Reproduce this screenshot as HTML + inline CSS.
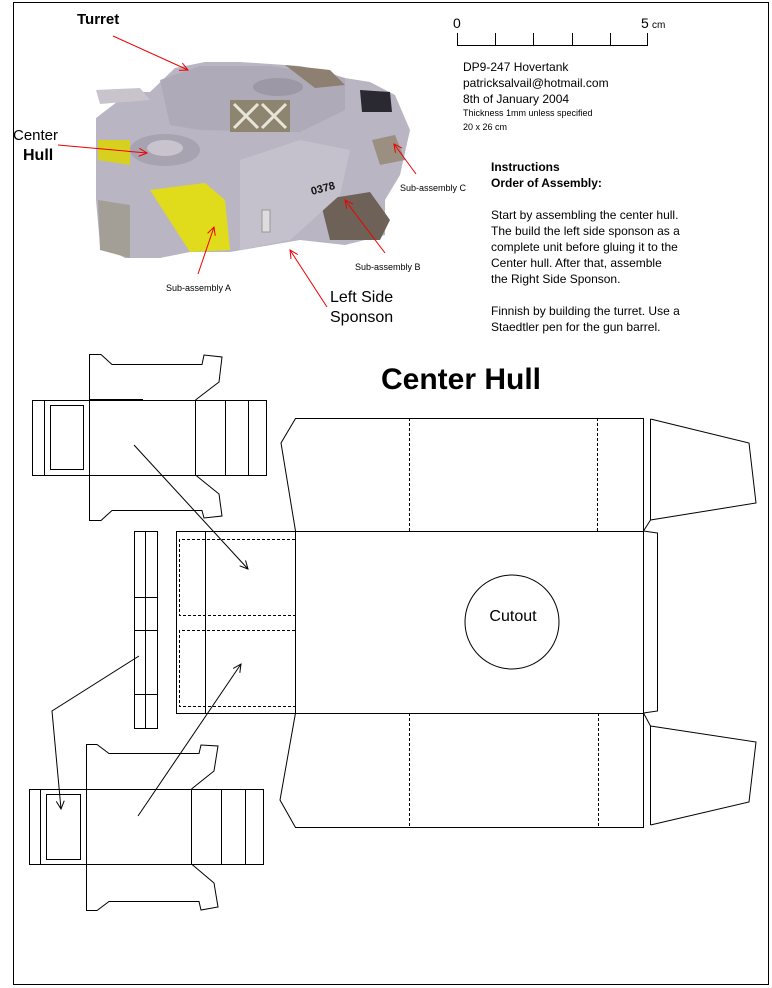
<!DOCTYPE html>
<html><head><meta charset="utf-8"><style>
html,body{margin:0;padding:0;background:#fff;}
svg{display:block;font-family:"Liberation Sans",Arial,sans-serif;}
</style></head><body>
<svg width="772" height="988" viewBox="0 0 772 988" xmlns="http://www.w3.org/2000/svg">
<defs>
<marker id="ab" markerWidth="10" markerHeight="10" refX="9" refY="5" orient="auto" markerUnits="userSpaceOnUse"><path d="M1,1 L9,5 L1,9" fill="none" stroke="#000" stroke-width="1"/></marker>
<marker id="ar" markerWidth="10" markerHeight="10" refX="9" refY="5" orient="auto" markerUnits="userSpaceOnUse"><path d="M1,1 L9,5 L1,9" fill="none" stroke="#e00" stroke-width="1"/></marker>
</defs>
<rect x="13.5" y="2.5" width="755" height="982" fill="none" stroke="#000" stroke-width="1"/>

<!-- tank photo approximation -->
<g stroke="none">
<polygon points="96,118 130,92 150,92 175,68 205,62 240,62 300,66 320,70 345,78 370,82 395,95 410,130 400,175 385,200 385,235 345,245 300,240 230,252 190,252 160,258 125,258 100,245 96,200" fill="#b9b5c2"/>
<polygon points="96,90 140,88 150,100 100,104" fill="#c9c4cc"/>
<polygon points="160,80 200,66 270,66 310,72 345,78 345,110 300,132 200,130 170,125" fill="#aeaab8"/>
<polygon points="230,100 290,100 290,132 230,132" fill="#8e8570"/>
<path d="M234,104 L258,128 M258,104 L234,128 M262,104 L286,128 M286,104 L262,128" stroke="#e8e4d8" stroke-width="3"/>
<ellipse cx="278" cy="87" rx="25" ry="9" fill="#9d98a6"/>
<ellipse cx="165" cy="150" rx="35" ry="16" fill="#a8a3b0"/>
<ellipse cx="165" cy="148" rx="18" ry="8" fill="#c8c3cc"/>
<polygon points="98,140 130,140 130,165 98,160" fill="#d8d020"/>
<polygon points="150,190 205,183 225,200 230,250 190,252" fill="#e0dc1c"/>
<polygon points="98,200 130,205 130,258 100,250" fill="#a39f96"/>
<polygon points="320,200 370,192 390,220 380,240 330,240" fill="#6e6258"/>
<polygon points="285,65 330,70 345,85 315,88" fill="#8d8070"/>
<polygon points="360,90 390,92 392,112 362,112" fill="#2a2830"/>
<polygon points="372,140 395,135 405,160 380,165" fill="#9a8f80"/>
<polygon points="240,160 300,140 350,150 340,195 290,240 240,250" fill="#c5c1cc"/>
<text x="312" y="195" font-size="11" font-weight="bold" fill="#111" transform="rotate(-15 312 195)">0378</text>
<rect x="262" y="210" width="8" height="22" fill="#ddd" stroke="#999"/>
</g>

<!-- labels on photo -->
<text x="77" y="24" font-size="15" font-weight="bold">Turret</text>
<line x1="113" y1="36" x2="188" y2="70" stroke="#e00" marker-end="url(#ar)"/>
<text x="13" y="140" font-size="15">Center</text>
<text x="23" y="160" font-size="16" font-weight="bold">Hull</text>
<line x1="58" y1="145" x2="147" y2="153" stroke="#e00" marker-end="url(#ar)"/>
<text x="400" y="191" font-size="9">Sub-assembly C</text>
<line x1="416" y1="174" x2="394" y2="144" stroke="#e00" marker-end="url(#ar)"/>
<text x="355" y="270" font-size="9">Sub-assembly B</text>
<line x1="385" y1="253" x2="345" y2="200" stroke="#e00" marker-end="url(#ar)"/>
<text x="166" y="291" font-size="9">Sub-assembly A</text>
<line x1="198" y1="274" x2="214" y2="227" stroke="#e00" marker-end="url(#ar)"/>
<text x="330" y="302" font-size="16">Left Side</text>
<text x="330" y="322" font-size="16">Sponson</text>
<line x1="327" y1="307" x2="290" y2="250" stroke="#e00" marker-end="url(#ar)"/>

<!-- scale -->
<g stroke="#000" stroke-width="1" fill="none">
<path d="M457.5,33 V45.5 H647.5 V33 M495.5,33 V45 M533.5,33 V45 M572.5,33 V45 M610.5,33 V45"/>
</g>
<text x="453" y="28" font-size="14">0</text>
<text x="641" y="28" font-size="14">5</text>
<text x="652" y="28" font-size="10">cm</text>
<text x="463" y="71" font-size="12">DP9-247 Hovertank</text>
<text x="463" y="87" font-size="12">patricksalvail@hotmail.com</text>
<text x="463" y="103" font-size="12">8th of January 2004</text>
<text x="463" y="116" font-size="9">Thickness 1mm unless specified</text>
<text x="463" y="130" font-size="9">20 x 26 cm</text>

<g font-size="12">
<text x="491" y="171" font-weight="bold">Instructions</text>
<text x="491" y="187" font-weight="bold">Order of Assembly:</text>
<text x="491" y="219">Start by assembling the center hull.</text>
<text x="491" y="235">The build the left side sponson as a</text>
<text x="491" y="251">complete unit before gluing it to the</text>
<text x="491" y="267">Center hull.  After that, assemble</text>
<text x="491" y="283">the Right Side Sponson.</text>
<text x="491" y="315">Finnish by building the turret.  Use a</text>
<text x="491" y="331">Staedtler pen for the gun barrel.</text>
</g>

<text x="461" y="389" font-size="30" font-weight="bold" text-anchor="middle">Center Hull</text>

<g stroke="#000" stroke-width="1" fill="none">
<!-- top sponson -->
<rect x="32.5" y="400.5" width="234" height="75"/>
<path d="M44.5,400 V475 M89.5,400 V475 M195.5,400 V475 M225.5,400 V475 M248.5,400 V475"/>
<rect x="50.5" y="405.5" width="33" height="64"/>
<path d="M89.5,400 V354.5 H101 L112,364.5 H202 L204,355 L222,357 L219,382 L195.5,400"/>
<path d="M195.5,475 L219,494 L222,516 L204,518 L202,510.5 H157 M157,510.5 H112 L101,520.5 H89.5 V475"/>
<path d="M89,400 H143" stroke-width="2"/>

<!-- bottom sponson -->
<rect x="29.5" y="789.5" width="234" height="75"/>
<path d="M40.5,789 V864 M86.5,789 V864 M191.5,789 V864 M221.5,789 V864 M245.5,789 V864"/>
<rect x="46.5" y="794.5" width="34" height="65"/>
<path d="M86.5,789 V744.5 H97 L109,753.5 H199 L201,745 L218,746 L214,771 L191.5,789"/>
<path d="M191.5,864 L214,883 L218,907 L201,910 L199,901.5 H109 L97,910.5 H86.5 V864"/>

<!-- strip -->
<rect x="134.5" y="531.5" width="23" height="197"/>
<path d="M145.5,531 V728 M134,597.5 H157 M134,630.5 H157 M134,694.5 H157"/>

<!-- center hull -->
<rect x="176.5" y="531.5" width="467" height="182"/>
<path d="M205.5,531 V713 M295.5,531 V713"/>
<g stroke-dasharray="3,2">
<path d="M295,539.5 H179.5 V615.5 H295 M295,630.5 H179.5 V706.5 H295"/>
<path d="M409.5,418 V531 M597.5,418 V531 M409.5,713 V827 M598.5,713 V827"/>
</g>
<path d="M643.5,531 L657.5,533 V711 L643.5,713"/>
<path d="M295.5,531 L281,443 L295.5,418.5 H643.5 V531"/>
<path d="M650.5,419 V520 L643.5,531 M650.5,419 L749,443 L756,503 L650.5,520"/>
<path d="M295.5,713 L280,800 L295.5,827.5 H643.5 V713"/>
<path d="M643.5,713 L650.5,726 V825 M650.5,726 L756,742 L749,802 L650.5,825"/>
<circle cx="512" cy="622" r="47"/>

<!-- arrows -->
<line x1="134" y1="445" x2="248" y2="569" marker-end="url(#ab)"/>
<line x1="138" y1="816" x2="241" y2="664" marker-end="url(#ab)"/>
<path d="M139,656 L52,711 L61,809" marker-end="url(#ab)"/>
</g>
<text x="513" y="621" font-size="16" text-anchor="middle">Cutout</text>
</svg>
</body></html>
